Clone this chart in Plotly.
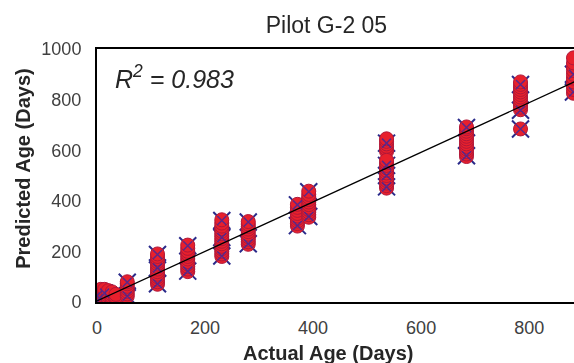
import plotly.graph_objects as go

# ---- data ----
red_x = ([0]*7 + [7]*6 + [14]*6 + [21]*5 + [28]*5 + [35]*3 + [56]*7 + [112]*13 + [168]*11 +
         [231]*15 + [280]*10 + [371]*9 + [392]*11 + [536]*18 + [684]*13 + [784]*13 + [882]*10)
red_y = ([0, 8, 15, 22, 30, 38, 45] +
         [0, 10, 20, 30, 40, 50] +
         [2, 12, 22, 32, 42, 50] +
         [5, 15, 25, 35, 45] +
         [0, 10, 20, 30, 40] +
         [10, 20, 30] +
         [22, 32, 42, 52, 62, 72, 80] +
         [70, 80, 90, 100, 110, 120, 130, 140, 150, 160, 170, 180, 190] +
         [120, 130, 140, 150, 160, 170, 180, 190, 200, 212, 225] +
         [180, 190, 200, 210, 220, 230, 240, 250, 260, 270, 280, 290, 300, 312, 325] +
         [228, 238, 248, 258, 268, 278, 288, 298, 308, 318] +
         [300, 310, 320, 330, 340, 350, 362, 374, 386] +
         [335, 345, 355, 365, 375, 385, 395, 405, 415, 425, 438] +
         [595, 605, 615, 625, 635, 645, 450, 460, 470, 480, 490, 500, 510, 520, 530, 540, 550, 560] +
         [575, 585, 595, 605, 615, 625, 635, 645, 655, 665, 675, 685, 692] +
         [684, 760, 770, 780, 790, 800, 810, 820, 830, 840, 850, 860, 870] +
         [825, 840, 855, 870, 885, 900, 915, 930, 945, 965])

blue_x = ([0]*2 + [14] + [56]*2 + [112]*3 + [168]*2 + [231]*3 + [280]*2 + [371]*2 +
          [392]*2 + [536]*4 + [684]*2 + [784]*3 + [882]*2)
blue_y = ([5, 25] + [35] + [24, 78] + [72, 135, 188] + [122, 222] + [182, 255, 322] +
          [230, 316] + [302, 384] + [338, 436] + [628, 540, 455, 500] + [578, 690] +
          [684, 758, 860] + [830, 900])

fit_slope = 0.98
fit_intercept = 4
fit_x = [0, 900]
r2_text = "0.983"

x_ticks = [0, 200, 400, 600, 800]
y_ticks = [0, 200, 400, 600, 800, 1000]

fit_y = [fit_slope * v + fit_intercept for v in fit_x]

fig = go.Figure()
# dark x markers under the circles (corners poke out)
fig.add_trace(go.Scatter(x=blue_x, y=blue_y, mode="markers",
                         marker=dict(symbol="x-thin-open", size=17, color="#2a2a8a",
                                     line=dict(width=2, color="#2a2a8a")),
                         showlegend=False, hoverinfo="skip"))
fig.add_trace(go.Scatter(x=red_x, y=red_y, mode="markers",
                         marker=dict(symbol="circle", size=14, color="#e8202c",
                                     line=dict(width=1, color="#b0183a")),
                         showlegend=False))
fig.add_trace(go.Scatter(x=blue_x, y=blue_y, mode="markers",
                         marker=dict(symbol="x-thin-open", size=9, color="#3a2aa0",
                                     line=dict(width=1.5, color="#3a2aa0")),
                         opacity=0.8, showlegend=False))
fig.add_trace(go.Scatter(x=fit_x, y=fit_y, mode="lines",
                         line=dict(color="black", width=1.3), showlegend=False))

fig.update_layout(
    width=574, height=363,
    margin=dict(l=97, r=0, t=49, b=60.5),
    paper_bgcolor="white", plot_bgcolor="white",
    font=dict(family="Liberation Sans, Arial, sans-serif", color="#404040"),
    title=dict(text="Pilot G-2 05", x=0.481, xref="paper", xanchor="center",
               y=1 - 25/363, yref="container", yanchor="middle",
               font=dict(size=23, color="#262626")),
    xaxis=dict(range=[0, 883], tickvals=x_ticks, showgrid=False, zeroline=False,
               showline=True, linecolor="black", linewidth=2, mirror=True,
               ticks="", tickfont=dict(size=18, color="#404040"),
               ticklabelstandoff=8),
    yaxis=dict(range=[0, 1000], tickvals=y_ticks, showgrid=False, zeroline=False,
               showline=True, linecolor="black", linewidth=2,
               ticks="", tickfont=dict(size=18, color="#404040"),
               ticklabelstandoff=10),
    annotations=[
        dict(text="<b>Actual Age (Days)</b>", xref="paper", yref="paper",
             x=0.484, y=(302.5 - 353.5) / 253.5, xanchor="center", yanchor="middle",
             showarrow=False, font=dict(size=20, color="#262626")),
        dict(text="<b>Predicted Age (Days)</b>", xref="paper", yref="paper",
             x=(23 - 97) / 477, y=(302.5 - 169) / 253.5, xanchor="center", yanchor="middle",
             textangle=-90, showarrow=False, font=dict(size=20, color="#262626")),
        dict(text="<i>R<sup>2</sup> = " + r2_text + "</i>", xref="paper", yref="paper",
             x=(113 - 97) / 477, y=(302.5 - 77) / 253.5, xanchor="left", yanchor="middle",
             showarrow=False, font=dict(size=25, color="#262626")),
    ],
)

fig.write_html("out.html")
